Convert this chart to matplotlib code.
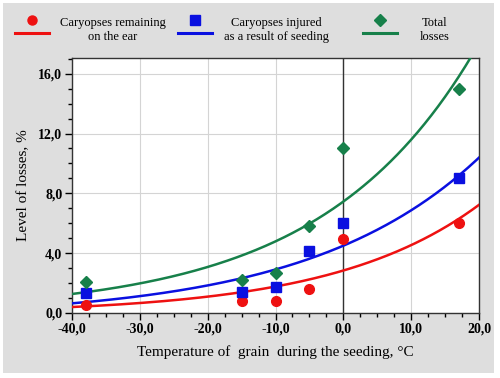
import numpy as np
import matplotlib.pyplot as plt
from matplotlib.patches import Rectangle
from matplotlib.lines import Line2D
from matplotlib.ticker import MultipleLocator, FuncFormatter

# measured points
temp = [-38, -15, -10, -5, 0, 17]
remaining = [0.55, 0.8, 0.8, 1.6, 4.95, 6.0]
injured = [1.35, 1.4, 1.75, 4.15, 6.0, 9.0]
total = [2.1, 2.2, 2.7, 5.85, 11.0, 15.0]

# trend lines y = a*exp(b*x) + c
trend_remaining = [2.9, 0.0461, -0.06]
trend_injured = [4.84, 0.0398, -0.34]
trend_total = [7.45, 0.0442, 0.0]

labels = ['Caryopses remaining\non the ear', 'Caryopses injured\nas a result of seeding', 'Total\nlosses']
colors = ['#ee1111', '#0a10e0', '#17804a']
markers = ['o', 's', 'D']

plt.rcParams['font.family'] = ['Liberation Serif', 'DejaVu Serif']

fig = plt.figure(figsize=(5, 3.78), dpi=100)
fig.patch.set_facecolor('white')
fig.patches.append(Rectangle((3/500, 5/378), 491/500, 370/378, transform=fig.transFigure,
                             facecolor='#dedede', edgecolor='none', zorder=-10))

ax = fig.add_axes([72/500, 1 - 313/378, 407/500, 255/378])
ax.set_facecolor('white')

xs = np.linspace(-40, 20, 300)
series = [remaining, injured, total]
trends = [trend_remaining, trend_injured, trend_total]
msizes = [7, 6.5, 6.2]
for ys, tr, c, m, ms in zip(series, trends, colors, markers, msizes):
    a, b, off = tr
    ax.plot(xs, a * np.exp(b * xs) + off, color=c, lw=1.8, zorder=3)
    ax.plot(temp, ys, linestyle='none', marker=m, color=c, ms=ms, zorder=4)

ax.axvline(0, color='#333333', lw=1.0, zorder=2)

ax.set_xlim(-40, 20)
ax.set_ylim(0, 17.05)
ax.xaxis.set_major_locator(MultipleLocator(10))
ax.xaxis.set_minor_locator(MultipleLocator(2.5))
ax.yaxis.set_major_locator(MultipleLocator(4))
ax.yaxis.set_minor_locator(MultipleLocator(1))
fmt = FuncFormatter(lambda v, p: ('%.1f' % v).replace('.', ','))
ax.xaxis.set_major_formatter(fmt)
ax.yaxis.set_major_formatter(fmt)
ax.grid(True, which='major', color='#d4d4d4', lw=0.8, zorder=1)
ax.tick_params(which='major', direction='out', length=5, width=1, labelsize=10, pad=2)
ax.tick_params(which='minor', direction='out', length=3, width=1)
for lab in ax.get_xticklabels() + ax.get_yticklabels():
    lab.set_fontweight('bold')
for s in ax.spines.values():
    s.set_color('#333333')
    s.set_linewidth(1)

ax.set_xlabel('Temperature of  grain  during the seeding, \u00b0C', fontsize=11, labelpad=7)
ax.set_ylabel('Level of losses, %', fontsize=11, labelpad=6)

# legend row across the top
handle_x = [32, 195, 380]
text_x = [113, 276, 435]
for hx, tx, c, m, lab in zip(handle_x, text_x, colors, markers, labels):
    fig.add_artist(Line2D([(hx - 17) / 500, (hx + 17) / 500], [1 - 33 / 378] * 2,
                          transform=fig.transFigure, color=c, lw=2.2))
    fig.add_artist(Line2D([hx / 500], [1 - 20 / 378], transform=fig.transFigure,
                          marker=m, color=c, ms=6.5, linestyle='none'))
    fig.text(tx / 500, 1 - 30 / 378, lab, ha='center', va='center', fontsize=9,
             linespacing=1.3)

fig.savefig('out.png', dpi=100, facecolor=fig.get_facecolor())
